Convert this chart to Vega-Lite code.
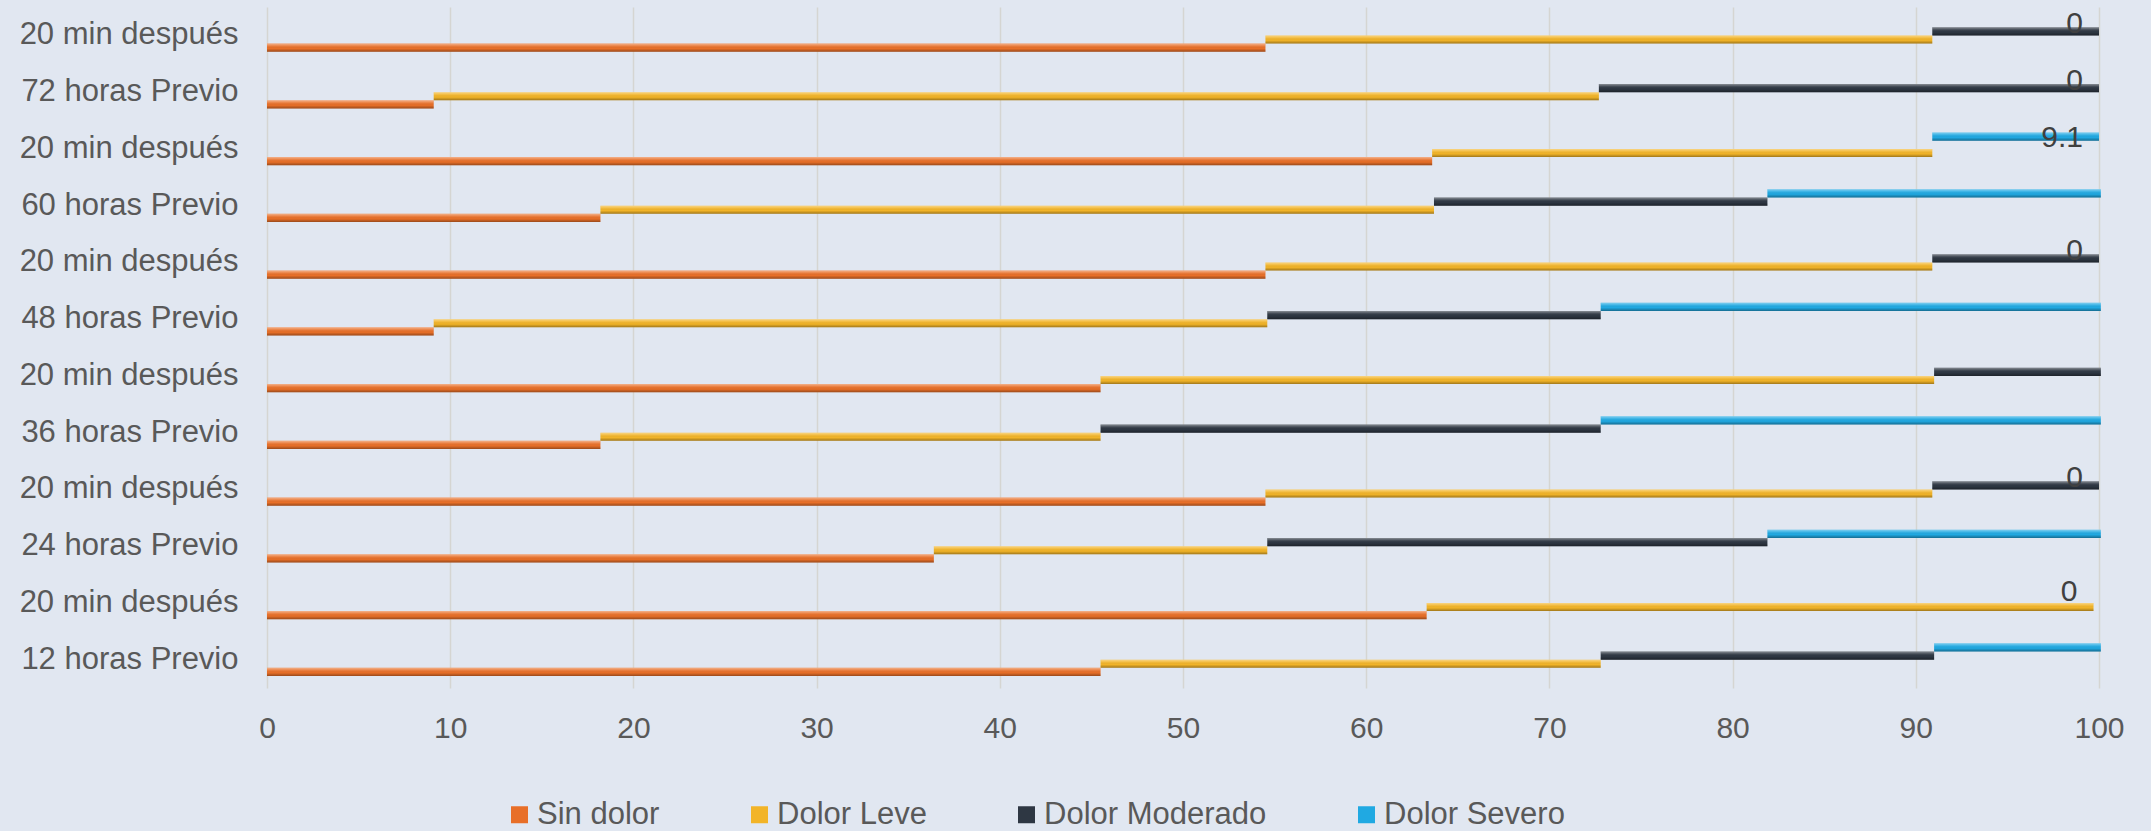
{
  "$schema": "https://vega.github.io/schema/vega-lite/v6.json",
  "width": 1832,
  "height": 681,
  "autosize": {"type": "none"},
  "padding": {"left": 267, "top": 7, "right": 52, "bottom": 143},
  "background": "#E1E7F1",
  "config": {
    "view": {"stroke": null},
    "font": "Liberation Sans"
  },
  "data": {
    "values": [
      {"fila": "12 horas Previo", "serie": "Sin dolor", "orden": 1, "valor": 45.5},
      {"fila": "12 horas Previo", "serie": "Dolor Leve", "orden": 2, "valor": 27.3},
      {"fila": "12 horas Previo", "serie": "Dolor Moderado", "orden": 3, "valor": 18.2},
      {"fila": "12 horas Previo", "serie": "Dolor Severo", "orden": 4, "valor": 9.1},
      {"fila": "20 min después|12h", "serie": "Sin dolor", "orden": 1, "valor": 63.3},
      {"fila": "20 min después|12h", "serie": "Dolor Leve", "orden": 2, "valor": 36.4},
      {"fila": "20 min después|12h", "serie": "Dolor Moderado", "orden": 3, "valor": 0},
      {"fila": "20 min después|12h", "serie": "Dolor Severo", "orden": 4, "valor": 0, "etiqueta": true},
      {"fila": "24 horas Previo", "serie": "Sin dolor", "orden": 1, "valor": 36.4},
      {"fila": "24 horas Previo", "serie": "Dolor Leve", "orden": 2, "valor": 18.2},
      {"fila": "24 horas Previo", "serie": "Dolor Moderado", "orden": 3, "valor": 27.3},
      {"fila": "24 horas Previo", "serie": "Dolor Severo", "orden": 4, "valor": 18.2},
      {"fila": "20 min después|24h", "serie": "Sin dolor", "orden": 1, "valor": 54.5},
      {"fila": "20 min después|24h", "serie": "Dolor Leve", "orden": 2, "valor": 36.4},
      {"fila": "20 min después|24h", "serie": "Dolor Moderado", "orden": 3, "valor": 9.1},
      {"fila": "20 min después|24h", "serie": "Dolor Severo", "orden": 4, "valor": 0, "etiqueta": true},
      {"fila": "36 horas Previo", "serie": "Sin dolor", "orden": 1, "valor": 18.2},
      {"fila": "36 horas Previo", "serie": "Dolor Leve", "orden": 2, "valor": 27.3},
      {"fila": "36 horas Previo", "serie": "Dolor Moderado", "orden": 3, "valor": 27.3},
      {"fila": "36 horas Previo", "serie": "Dolor Severo", "orden": 4, "valor": 27.3},
      {"fila": "20 min después|36h", "serie": "Sin dolor", "orden": 1, "valor": 45.5},
      {"fila": "20 min después|36h", "serie": "Dolor Leve", "orden": 2, "valor": 45.5},
      {"fila": "20 min después|36h", "serie": "Dolor Moderado", "orden": 3, "valor": 9.1},
      {"fila": "20 min después|36h", "serie": "Dolor Severo", "orden": 4, "valor": 0},
      {"fila": "48 horas Previo", "serie": "Sin dolor", "orden": 1, "valor": 9.1},
      {"fila": "48 horas Previo", "serie": "Dolor Leve", "orden": 2, "valor": 45.5},
      {"fila": "48 horas Previo", "serie": "Dolor Moderado", "orden": 3, "valor": 18.2},
      {"fila": "48 horas Previo", "serie": "Dolor Severo", "orden": 4, "valor": 27.3},
      {"fila": "20 min después|48h", "serie": "Sin dolor", "orden": 1, "valor": 54.5},
      {"fila": "20 min después|48h", "serie": "Dolor Leve", "orden": 2, "valor": 36.4},
      {"fila": "20 min después|48h", "serie": "Dolor Moderado", "orden": 3, "valor": 9.1},
      {"fila": "20 min después|48h", "serie": "Dolor Severo", "orden": 4, "valor": 0, "etiqueta": true},
      {"fila": "60 horas Previo", "serie": "Sin dolor", "orden": 1, "valor": 18.2},
      {"fila": "60 horas Previo", "serie": "Dolor Leve", "orden": 2, "valor": 45.5},
      {"fila": "60 horas Previo", "serie": "Dolor Moderado", "orden": 3, "valor": 18.2},
      {"fila": "60 horas Previo", "serie": "Dolor Severo", "orden": 4, "valor": 18.2},
      {"fila": "20 min después|60h", "serie": "Sin dolor", "orden": 1, "valor": 63.6},
      {"fila": "20 min después|60h", "serie": "Dolor Leve", "orden": 2, "valor": 27.3},
      {"fila": "20 min después|60h", "serie": "Dolor Moderado", "orden": 3, "valor": 0},
      {"fila": "20 min después|60h", "serie": "Dolor Severo", "orden": 4, "valor": 9.1, "etiqueta": true},
      {"fila": "72 horas Previo", "serie": "Sin dolor", "orden": 1, "valor": 9.1},
      {"fila": "72 horas Previo", "serie": "Dolor Leve", "orden": 2, "valor": 63.6},
      {"fila": "72 horas Previo", "serie": "Dolor Moderado", "orden": 3, "valor": 27.3},
      {"fila": "72 horas Previo", "serie": "Dolor Severo", "orden": 4, "valor": 0, "etiqueta": true},
      {"fila": "20 min después|72h", "serie": "Sin dolor", "orden": 1, "valor": 54.5},
      {"fila": "20 min después|72h", "serie": "Dolor Leve", "orden": 2, "valor": 36.4},
      {"fila": "20 min después|72h", "serie": "Dolor Moderado", "orden": 3, "valor": 9.1},
      {"fila": "20 min después|72h", "serie": "Dolor Severo", "orden": 4, "valor": 0, "etiqueta": true}
    ]
  },
  "transform": [
    {"stack": "valor", "groupby": ["fila"], "sort": [{"field": "orden"}], "as": ["inicio", "fin"]}
  ],
  "encoding": {
    "y": {
      "field": "fila",
      "type": "nominal",
      "title": null,
      "scale": {
        "domain": [
          "20 min después|72h", "72 horas Previo",
          "20 min después|60h", "60 horas Previo",
          "20 min después|48h", "48 horas Previo",
          "20 min después|36h", "36 horas Previo",
          "20 min después|24h", "24 horas Previo",
          "20 min después|12h", "12 horas Previo"
        ],
        "paddingInner": 0.42,
        "paddingOuter": 0.21
      },
      "axis": {
        "labelExpr": "split(datum.value, '|')[0]",
        "domain": false,
        "ticks": false,
        "tickSize": 0,
        "labelFontSize": 31,
        "labelColor": "#595959",
        "labelPadding": 29,
        "labelLimit": 400,
        "grid": false
      }
    },
    "yOffset": {
      "field": "serie",
      "type": "nominal",
      "scale": {
        "domain": ["Dolor Severo", "Dolor Moderado", "Dolor Leve", "Sin dolor"],
        "paddingInner": 0,
        "paddingOuter": 0
      }
    }
  },
  "layer": [
    {
      "transform": [{"filter": "datum.valor > 0"}],
      "mark": {"type": "bar"},
      "encoding": {
        "x": {
          "field": "inicio",
          "type": "quantitative",
          "title": null,
          "scale": {"domain": [0, 100], "nice": false},
          "axis": {
            "values": [0, 10, 20, 30, 40, 50, 60, 70, 80, 90, 100],
            "grid": true,
            "gridColor": "#D5D5D2",
            "gridWidth": 1.5,
            "domain": false,
            "ticks": false,
            "tickSize": 0,
            "labelFontSize": 30,
            "labelColor": "#595959",
            "labelPadding": 25,
            "labelFlush": false,
            "labelOverlap": false
          }
        },
        "x2": {"field": "fin"},
        "color": {
          "field": "serie",
          "type": "nominal",
          "scale": {
            "domain": ["Sin dolor", "Dolor Leve", "Dolor Moderado", "Dolor Severo"],
            "range": ["#E86F28", "#F2B428", "#2E3743", "#20A9E2"]
          },
          "legend": {
            "title": null,
            "orient": "none",
            "legendX": 237,
            "legendY": 792,
            "direction": "horizontal",
            "symbolType": "square",
            "symbolSize": 289,
            "symbolStrokeWidth": 0,
            "labelFontSize": 31,
            "labelColor": "#595959",
            "labelLimit": 400,
            "labelOffset": 2,
            "columnPadding": 84,
            "padding": 0
          }
        }
      }
    },
    {
      "transform": [{"filter": "datum.valor > 0"}],
      "mark": {
        "type": "bar",
        "fill": {
          "gradient": "linear",
          "x1": 0, "y1": 0, "x2": 0, "y2": 1,
          "stops": [
            {"offset": 0, "color": "rgba(255,255,255,0.45)"},
            {"offset": 0.3, "color": "rgba(255,255,255,0.12)"},
            {"offset": 0.6, "color": "rgba(0,0,0,0)"},
            {"offset": 1, "color": "rgba(0,0,0,0.35)"}
          ]
        }
      },
      "encoding": {
        "x": {"field": "inicio", "type": "quantitative"},
        "x2": {"field": "fin"}
      }
    },
    {
      "transform": [{"filter": "datum.etiqueta === true"}],
      "mark": {
        "type": "text",
        "align": "right",
        "baseline": "middle",
        "dx": -16,
        "dy": 1,
        "fontSize": 30,
        "color": "#404040"
      },
      "encoding": {
        "x": {"field": "fin", "type": "quantitative"},
        "text": {"field": "valor", "type": "quantitative"}
      }
    }
  ]
}
